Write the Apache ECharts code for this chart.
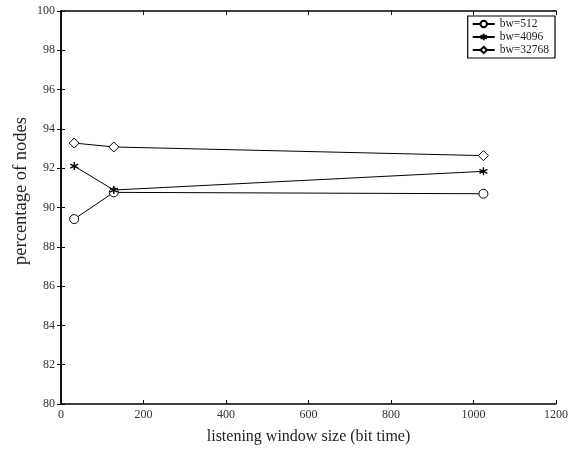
<!DOCTYPE html>
<html>
<head>
<meta charset="utf-8">
<script src="https://cdn.jsdelivr.net/npm/echarts@6/dist/echarts.min.js"></script>
<style>
html, body { margin: 0; padding: 0; background: #fff; }
#main { width: 571px; height: 451px; }
</style>
</head>
<body>
<div id="main"></div>
<script>
// listening window sizes (bit time)
var windowSizes = [32, 128, 1024];
var bw512 = [89.41, 90.77, 90.70];
var bw4096 = [92.11, 90.89, 91.84];
var bw32768 = [93.28, 93.08, 92.64];
var seriesNames = ['bw=512', 'bw=4096', 'bw=32768'];

var starPath = 'path://M0,-5L0,5M-4.33,-2.5L4.33,2.5M-4.33,2.5L4.33,-2.5';
var font = 'Liberation Serif';

function pairs(ys) {
  var out = [];
  for (var i = 0; i < windowSizes.length; i++) out.push([windowSizes[i], ys[i]]);
  return out;
}

function mkSeries(name, ys, symbol, size, fill, bw) {
  return {
    name: name,
    type: 'line',
    data: pairs(ys),
    symbol: symbol,
    symbolSize: size,
    showAllSymbol: true,
    lineStyle: { color: '#000', width: 1 },
    itemStyle: { color: fill, borderColor: '#000', borderWidth: bw },
    emphasis: { disabled: true }
  };
}

var chart = echarts.init(document.getElementById('main'));
chart.setOption({
  animation: false,
  grid: { left: 61, right: 11, top: 11, bottom: 47 },
  graphic: [{
    type: 'text',
    left: 12,
    top: 117,
    rotation: Math.PI / 2,
    style: { text: 'percentage of nodes', font: '18.5px "Liberation Serif"', fill: '#222' }
  }],
  legend: {
    data: seriesNames,
    orient: 'vertical',
    right: 16,
    top: 16,
    itemWidth: 22,
    itemHeight: 8,
    itemGap: 1,
    padding: [2, 6, 2, 4],
    borderColor: '#000',
    borderWidth: 1.2,
    textStyle: { fontFamily: font, fontSize: 11.5, color: '#222' }
  },
  xAxis: [{
    type: 'value',
    min: 0, max: 1200, interval: 200,
    name: 'listening window size (bit time)',
    nameLocation: 'middle',
    nameGap: 25,
    nameTextStyle: { fontFamily: font, fontSize: 16, color: '#222' },
    axisLine: { lineStyle: { color: '#000', width: 1.5 } },
    axisTick: { inside: true, length: 4, lineStyle: { color: '#000' } },
    axisLabel: { fontFamily: font, fontSize: 12, color: '#333', margin: 5, formatter: function (v) { return String(v); } },
    splitLine: { show: false }
  }, {
    type: 'value', position: 'top',
    min: 0, max: 1200, interval: 200,
    axisLine: { show: true, lineStyle: { color: '#000', width: 1.5 } },
    axisTick: { inside: true, length: 4, lineStyle: { color: '#000' } },
    axisLabel: { show: false },
    splitLine: { show: false }
  }],
  yAxis: [{
    type: 'value',
    min: 80, max: 100, interval: 2,
    axisLine: { show: true, lineStyle: { color: '#000', width: 1.5 } },
    axisTick: { show: true, inside: true, length: 4, lineStyle: { color: '#000' } },
    axisLabel: { fontFamily: font, fontSize: 12, color: '#333', margin: 6 },
    splitLine: { show: false }
  }, {
    type: 'value', position: 'right',
    min: 80, max: 100, interval: 2,
    axisLine: { show: true, lineStyle: { color: '#000', width: 1.5 } },
    axisTick: { show: true, inside: true, length: 4, lineStyle: { color: '#000' } },
    axisLabel: { show: false },
    splitLine: { show: false }
  }],
  series: [
    mkSeries(seriesNames[0], bw512, 'circle', 9, '#fff', 1),
    mkSeries(seriesNames[1], bw4096, starPath, 8, '#000', 1.4),
    mkSeries(seriesNames[2], bw32768, 'diamond', 10, '#fff', 1)
  ]
});
</script>
</body>
</html>
